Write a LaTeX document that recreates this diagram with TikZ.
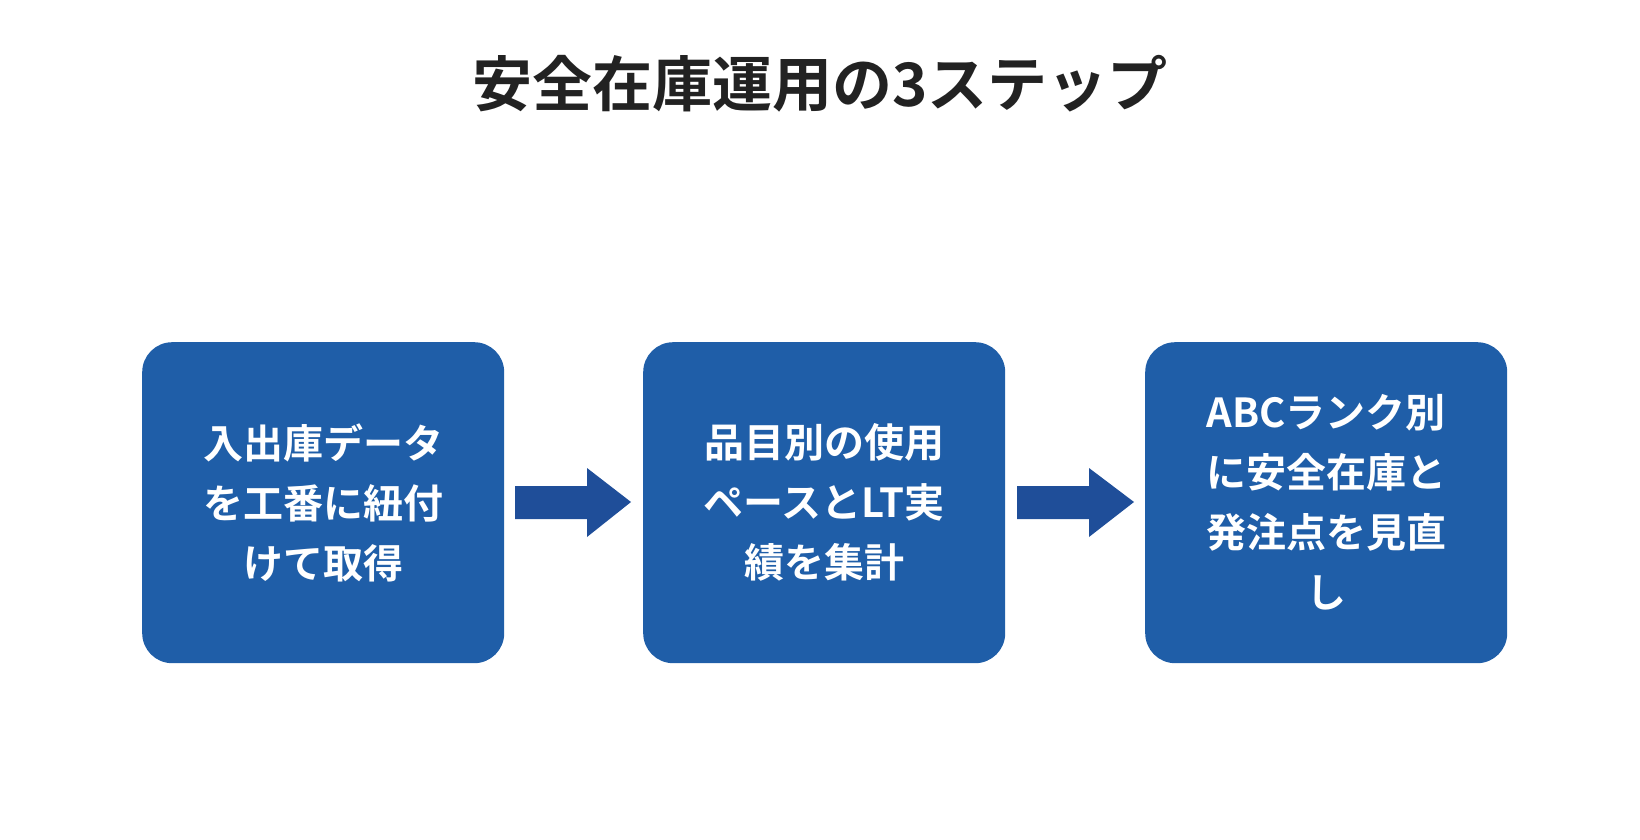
\documentclass[tikz,border=0pt]{standalone}
\usepackage{fontspec}
\newfontfamily\cjk{Noto Sans CJK JP Bold}
\definecolor{boxc}{HTML}{1F5EA8}
\definecolor{arrc}{HTML}{1F4E99}
\definecolor{titc}{HTML}{222222}
\begin{document}
\begin{tikzpicture}[x=1pt,y=-1pt,
 stepbox/.style={fill=boxc,rounded corners=30pt,minimum width=362pt,minimum height=321pt,inner sep=0pt,anchor=north west,text=white,align=center,font=\cjk\fontsize{40}{60}\selectfont},
 arr/.style={fill=arrc}]
\useasboundingbox (0,0) rectangle (1640,840);
\node[text=titc,font=\cjk\fontsize{60}{70}\selectfont] (title) at (820,84) {安全在庫運用の3ステップ};
\node[stepbox] (a) at (142,342) {入出庫データ\\を工番に紐付\\けて取得};
\node[stepbox] (b) at (643,342) {品目別の使用\\ペースとLT実\\績を集計};
\node[stepbox] (c) at (1145,342) {ABCランク別\\に安全在庫と\\発注点を見直\\し};
\fill[arr] (515,486) -- (587,486) -- (587,468) -- (631,502) -- (587,537) -- (587,519) -- (515,519) -- cycle;
\fill[arr] (1017,486) -- (1089,486) -- (1089,468) -- (1134,502) -- (1089,537) -- (1089,519) -- (1017,519) -- cycle;
\end{tikzpicture}
\end{document}
